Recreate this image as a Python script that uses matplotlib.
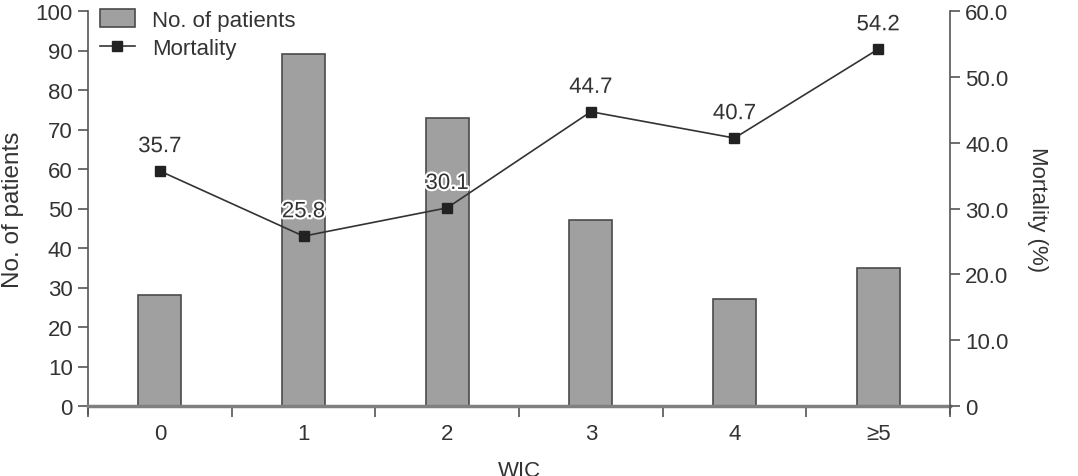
import matplotlib
matplotlib.use("Agg")
import matplotlib.pyplot as plt
import matplotlib.patheffects as pe
from matplotlib.patches import Patch
from matplotlib.lines import Line2D

categories = ["0", "1", "2", "3", "4", "≥5"]
patients = [28, 89, 73, 47, 27, 35]
mortality = [35.7, 25.8, 30.1, 44.7, 40.7, 54.2]
left_ticks = list(range(0, 101, 10))
right_ticks = [0, 10, 20, 30, 40, 50, 60]

plt.rcParams['font.family'] = ['Liberation Sans', 'DejaVu Sans']
txt = '#333333'
fs = 16

fig = plt.figure(figsize=(10.78, 4.77), dpi=100)
ax = fig.add_axes([88/1078, 1-407/477, (950-88)/1078, (407-12)/477])
x = list(range(len(categories)))
ax.bar(x, patients, width=0.3, color='#a0a0a0', edgecolor='#4a4a4a', linewidth=1.2, zorder=2)
ax.set_xlim(-0.5, 5.5)
ax.set_ylim(0, 100)
ax.set_yticks(left_ticks)
ax.set_xticks(x)
ax.set_xticklabels(categories)
ax.set_xticks([i - 0.5 for i in range(len(categories) + 1)], minor=True)
ax.tick_params(axis='x', which='major', length=0, pad=12, labelsize=fs, labelcolor=txt)
ax.tick_params(axis='x', which='minor', length=8, width=1.2, color='#555555', direction='out')
ax.tick_params(axis='y', length=7, width=1.2, color='#555555', labelsize=fs, labelcolor=txt, pad=4)
ax.spines['top'].set_visible(False)
ax.spines['right'].set_visible(False)
ax.spines['left'].set_color('#555555')
ax.spines['left'].set_linewidth(1.2)
ax.spines['left'].set_bounds(-2, 100)
ax.spines['bottom'].set_color('#808080')
ax.spines['bottom'].set_linewidth(2.5)
ax.set_ylabel("No. of patients", fontsize=17.5, color=txt, labelpad=8)
ax.set_xlabel("WIC", fontsize=fs, color=txt, labelpad=12)

ax2 = ax.twinx()
ax2.set_ylim(0, 60)
ax2.set_yticks(right_ticks)
ax2.set_yticklabels(["0" if v == 0 else f"{v:.1f}" for v in right_ticks])
ax2.plot(x, mortality, color='#333333', linewidth=1.2, marker='s', markersize=7,
         markerfacecolor='#222222', markeredgecolor='#222222', zorder=3)
for xi, m in zip(x, mortality):
    ax2.annotate(f"{m}", (xi, m), xytext=(0, 10), textcoords='offset points',
                 ha='center', va='bottom', fontsize=fs, color=txt,
                 path_effects=[pe.withStroke(linewidth=3, foreground='white')])
for s in ['top', 'left', 'bottom']:
    ax2.spines[s].set_visible(False)
ax2.spines['right'].set_color('#555555')
ax2.spines['right'].set_linewidth(1.2)
ax2.spines['right'].set_bounds(-1.2, 60)
ax2.tick_params(axis='y', length=7, width=1.2, color='#555555', labelsize=fs, labelcolor=txt, pad=4)
ax2.set_ylabel("Mortality (%)", fontsize=fs, color=txt, rotation=-90, labelpad=28)

handles = [Patch(facecolor='#a0a0a0', edgecolor='#4a4a4a', linewidth=1.2),
           Line2D([0], [0], color='#333333', linewidth=1.2, marker='s', markersize=7,
                  markerfacecolor='#222222', markeredgecolor='#222222')]
leg = ax.legend(handles, ["No. of patients", "Mortality"], loc='upper left',
                bbox_to_anchor=(0.014, 1.004), frameon=False, fontsize=fs,
                handlelength=1.55, handleheight=0.85, handletextpad=0.8, labelspacing=0.3,
                borderaxespad=0, borderpad=0)
for t in leg.get_texts():
    t.set_color(txt)

fig.savefig("out.png", dpi=100)
